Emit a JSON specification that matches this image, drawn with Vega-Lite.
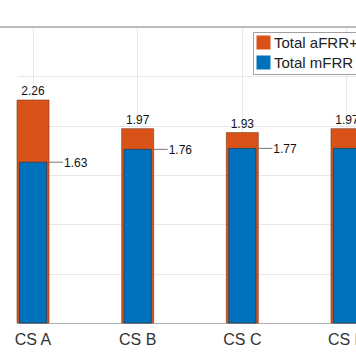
{
  "$schema": "https://vega.github.io/schema/vega-lite/v6.json",
  "width": 356,
  "height": 296,
  "autosize": {"type": "none"},
  "padding": {"left": 0, "top": 27, "right": 0, "bottom": 41},
  "background": "white",
  "config": {
    "view": {"stroke": null},
    "font": "Liberation Sans"
  },
  "data": {
    "values": [
      {"cs": "CS A", "total": 2.26, "mfrr": 1.63},
      {"cs": "CS B", "total": 1.97, "mfrr": 1.76},
      {"cs": "CS C", "total": 1.93, "mfrr": 1.77},
      {"cs": "CS D", "total": 1.97, "mfrr": 1.77}
    ]
  },
  "encoding": {
    "x": {
      "field": "cs",
      "type": "nominal",
      "sort": null,
      "scale": {"range": [17, 363], "paddingInner": 0.694, "paddingOuter": 0},
      "axis": {
        "title": null,
        "labelAngle": 0,
        "labelFontSize": 16,
        "labelColor": "#333333",
        "labelPadding": 8,
        "ticks": false,
        "domainColor": "#b0b0b0",
        "domainWidth": 1,
        "grid": true,
        "gridColor": "#e8e8e8",
        "bandPosition": 0.5
      }
    }
  },
  "layer": [
    {
      "mark": {"type": "rule", "color": "#b8b8b8", "strokeWidth": 1.2},
      "encoding": {"x": null, "y": {"datum": 3, "type": "quantitative"}}
    },
    {
      "mark": {"type": "bar", "width": {"band": 1}, "stroke": "#7a3a1e", "strokeWidth": 0.6},
      "encoding": {
        "y": {
          "field": "total",
          "type": "quantitative",
          "scale": {"domain": [0, 3]},
          "axis": {
            "title": null,
            "labels": false,
            "ticks": false,
            "domain": false,
            "grid": true,
            "gridColor": "#e8e8e8",
            "values": [0.5, 1, 1.5, 2, 2.5]
          }
        },
        "color": {
          "datum": "Total aFRR+mFRR",
          "scale": {"domain": ["Total aFRR+mFRR", "Total mFRR"], "range": ["#D95319", "#0072BD"]},
          "legend": {
            "title": null,
            "orient": "none",
            "legendX": 253,
            "legendY": 5,
            "direction": "vertical",
            "symbolType": "square",
            "symbolSize": 196,
            "symbolStrokeWidth": 0,
            "labelFontSize": 15,
            "labelColor": "#222222",
            "labelOffset": 3,
            "rowPadding": 4,
            "padding": 3,
            "strokeColor": "#a0a0a0",
            "fillColor": "white",
            "labelLimit": 400
          }
        }
      }
    },
    {
      "mark": {"type": "bar", "width": {"band": 0.85}, "stroke": "#1c2f44", "strokeWidth": 0.6},
      "encoding": {
        "y": {"field": "mfrr", "type": "quantitative"},
        "color": {"datum": "Total mFRR"}
      }
    },
    {
      "mark": {"type": "text", "fontSize": 12, "color": "#111111", "baseline": "alphabetic", "dy": -5},
      "encoding": {
        "y": {"field": "total", "type": "quantitative"},
        "text": {"field": "total", "type": "quantitative", "format": ".2f"}
      }
    },
    {
      "mark": {"type": "rule", "color": "#555555", "strokeWidth": 0.8, "xOffset": 16, "x2Offset": 30},
      "encoding": {
        "y": {"field": "mfrr", "type": "quantitative"},
        "x2": {"field": "cs"}
      }
    },
    {
      "mark": {"type": "text", "fontSize": 12, "color": "#111111", "align": "left", "baseline": "middle", "dx": 31, "dy": 1},
      "encoding": {
        "y": {"field": "mfrr", "type": "quantitative"},
        "text": {"field": "mfrr", "type": "quantitative", "format": ".2f"}
      }
    }
  ]
}
